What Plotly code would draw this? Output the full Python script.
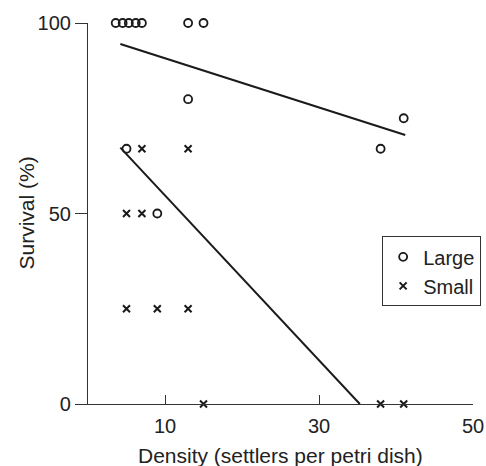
import plotly.graph_objects as go

# Large settlers (open circles)
large_x = [3.6, 4.5, 5.3, 6.2, 7.0, 13, 15, 13, 5, 9, 38, 41]
large_y = [100, 100, 100, 100, 100, 100, 100, 80, 67, 50, 67, 75]

# Small settlers (crosses)
small_x = [7, 13, 5, 7, 5, 9, 13, 15, 38, 41]
small_y = [67, 67, 50, 50, 25, 25, 25, 0, 0, 0]

# Fitted regression lines
large_fit_x = [4.2, 41.2]
large_fit_y = [94.5, 70.6]
small_fit_x = [4.2, 35.3]
small_fit_y = [67.3, 0]

x_ticks = [10, 30, 50]
y_ticks = [0, 50, 100]

FONT = "Liberation Sans, Arial, sans-serif"
INK = "#1a1a1a"

fig = go.Figure()
fig.add_trace(go.Scatter(x=large_fit_x, y=large_fit_y, mode="lines",
                         line=dict(color=INK, width=2), showlegend=False, hoverinfo="skip"))
fig.add_trace(go.Scatter(x=small_fit_x, y=small_fit_y, mode="lines",
                         line=dict(color=INK, width=2), showlegend=False, hoverinfo="skip"))
fig.add_trace(go.Scatter(x=large_x, y=large_y, mode="markers", name="Large",
                         marker=dict(symbol="circle-open", size=8, color=INK,
                                     line=dict(width=1.8, color=INK)),
                         cliponaxis=False))
fig.add_trace(go.Scatter(x=small_x, y=small_y, mode="markers", name="Small",
                         marker=dict(symbol="x-thin-open", size=7, color=INK,
                                     line=dict(width=2, color=INK)),
                         cliponaxis=False))

fig.update_layout(
    width=496, height=466,
    margin=dict(l=88, r=14, t=14, b=62),
    paper_bgcolor="white", plot_bgcolor="white",
    font=dict(family=FONT, size=20, color="#222"),
    xaxis=dict(range=[0, 50], tickvals=x_ticks, ticks="inside", ticklen=9,
               tickcolor="#333", showline=True, linecolor="#333", linewidth=1.2,
               showgrid=False, zeroline=False, ticklabelstandoff=4),
    yaxis=dict(range=[0, 100], tickvals=y_ticks, ticks="outside", ticklen=12,
               tickcolor="#333", showline=True, linecolor="#333", linewidth=1.2,
               showgrid=False, zeroline=False),
    legend=dict(x=0.764, y=0.44, xanchor="left", yanchor="top",
                bordercolor="#333", borderwidth=1, bgcolor="white",
                font=dict(size=20), itemwidth=30, tracegroupgap=4),
    annotations=[
        dict(text="Density (settlers per petri dish)", xref="paper", yref="paper",
             x=0.5, y=0, yshift=-51, xanchor="center", yanchor="middle",
             showarrow=False, font=dict(size=21)),
        dict(text="Survival (%)", xref="paper", yref="paper",
             x=0, y=0.5, xshift=-62, xanchor="center", yanchor="middle",
             textangle=-90, showarrow=False, font=dict(size=21)),
    ],
)

fig.write_html("out.html", config={"displayModeBar": False},
               post_script="document.body.style.margin='0';document.body.style.overflow='hidden';")
